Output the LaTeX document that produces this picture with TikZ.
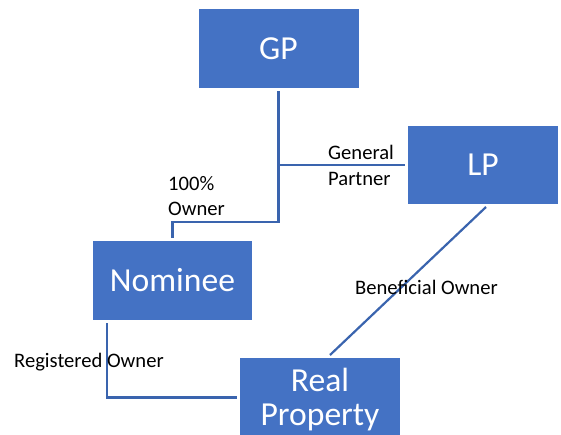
\documentclass[tikz,border=0pt]{standalone}
\usepackage{fontspec}
\setmainfont{Carlito}
\usepackage{tikz}
\usetikzlibrary{calc,positioning}
\definecolor{boxblue}{HTML}{4472C4}
\definecolor{lineblue}{HTML}{3A64AE}

\begin{document}
\begin{tikzpicture}[x=1pt,y=-1pt]
  \tikzset{entity/.style={fill=boxblue, text=white, minimum width=160pt, minimum height=79pt,
                          inner sep=0pt, outer sep=3pt, align=center,
                          font=\fontsize{33.6}{34}\selectfont},
           link/.style={draw=lineblue, line width=2.2pt},
           tag/.style={anchor=west, align=left, inner sep=0pt,
                       font=\fontsize{20.6}{25.5}\selectfont}}
  \useasboundingbox (0,0) rectangle (561,434);
  \clip (0,0) rectangle (561,434);

  \node[entity] (gp) at (278.5,48.5) {GP};
  \node[entity, minimum width=150pt, minimum height=78pt] (lp) at (483,165) {LP};
  \node[entity, minimum width=159pt] (nom) at (172.5,280.5) {Nominee};
  \node[entity, text depth=2pt] (rp) at (320,397.5) {Real\\Property};

  % GP -> nominee and LP
  \coordinate (split) at (278.5,222);
  \draw[link] (gp.south) -- (split) -| (nom.north);
  \draw[link] (gp.south |- lp.west) -- (lp.west);

  % property holders
  \draw[link] ([xshift=17pt]nom.south west) |- (rp.west);
  \draw[link] ([xshift=3pt]lp.south) -- ([xshift=10pt]rp.north);

  \node[tag] (partnertag) at (328,165.5) {General\\Partner};
  \node[tag] (ownertag) at (168,196) {100\%\\Owner};
  \node[tag] (registeredtag) at (14,362) {Registered Owner};
  \node[tag] (beneficialtag) at (355,287) {Beneficial Owner};
\end{tikzpicture}
\end{document}
